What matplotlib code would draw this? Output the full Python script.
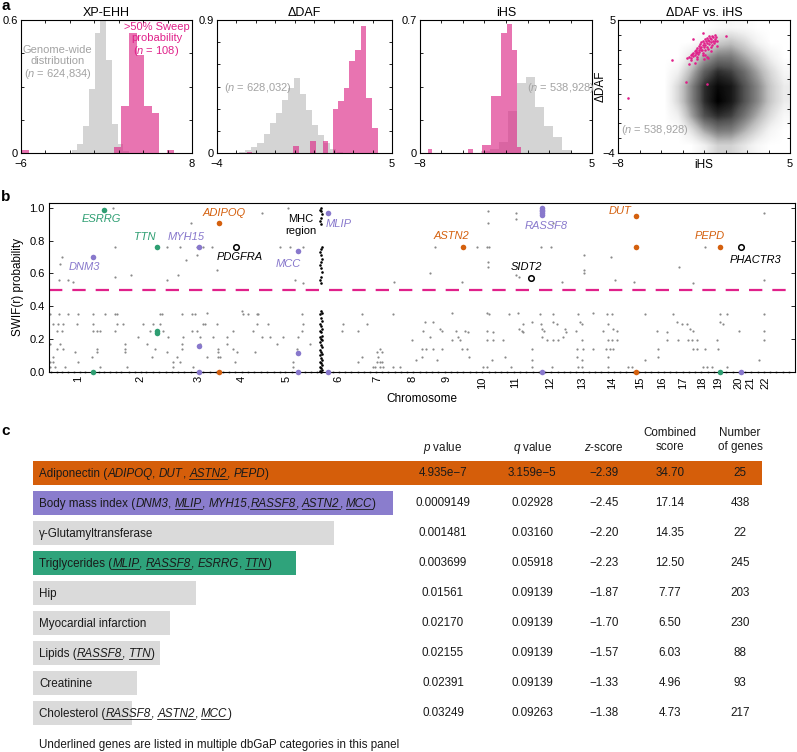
import matplotlib
matplotlib.use("Agg")
import matplotlib.pyplot as plt
from matplotlib.lines import Line2D
from matplotlib.transforms import blended_transform_factory
import numpy as np

plt.rcParams['font.family'] = ['Liberation Sans', 'DejaVu Sans']
plt.rcParams['mathtext.fontset'] = 'custom'
plt.rcParams['mathtext.rm'] = 'Liberation Sans'
plt.rcParams['mathtext.it'] = 'Liberation Sans:italic'
plt.rcParams['axes.linewidth'] = 0.8

# ======================= DATA =======================
# ---- panel a: histograms (bin left edges, widths, heights) ----
xpehh_bg_left = [-1.85, -1.38, -0.91, -0.44, 0.03, 0.50, 0.97, 1.44, 1.91, 2.38]
xpehh_bg_height = [0.012, 0.042, 0.12, 0.29, 0.54, 0.60, 0.42, 0.13, 0.04, 0.01]
xpehh_sw_left = [-6.0, 1.60, 2.22, 2.84, 3.46, 4.08, 4.70, 5.94]
xpehh_sw_height = [0.012, 0.027, 0.21, 0.54, 0.44, 0.21, 0.18, 0.012]

daf_bg_left = [-2.85, -2.54, -2.23, -1.92, -1.60, -1.29, -0.98, -0.67, -0.35,
               -0.04, 0.27, 0.58, 0.90, 1.21, 1.52, 1.83, 2.15]
daf_bg_height = [0.01, 0.02, 0.04, 0.07, 0.13, 0.20, 0.27, 0.36, 0.44,
                 0.51, 0.40, 0.29, 0.19, 0.12, 0.07, 0.03, 0.01]
daf_sw_left = [-2.47, -0.08, 0.79, 1.43, 1.94, 2.23, 2.52, 2.81, 3.10, 3.39, 3.68, 3.97]
daf_sw_height = [0.01, 0.045, 0.08, 0.08, 0.30, 0.35, 0.44, 0.62, 0.70, 0.86, 0.37, 0.17]

ihs_bg_left = [-3.40, -2.72, -2.04, -1.36, -0.68, 0.00, 0.68, 1.36, 2.04, 2.72]
ihs_bg_height = [0.01, 0.02, 0.06, 0.22, 0.37, 0.40, 0.24, 0.14, 0.085, 0.015]
ihs_sw_left = [-7.39, -4.36, -3.30, -2.60, -1.90, -1.45, -1.08, -0.70]
ihs_sw_width = [0.33, 0.33, 0.70, 0.70, 0.45, 0.37, 0.38, 0.32]
ihs_sw_height = [0.023, 0.023, 0.04, 0.30, 0.63, 0.68, 0.54, 0.03]

# ---- panel a: 2D density of dDAF vs iHS (rows: dDAF 4.5 .. -3.5, cols: iHS -4.5 .. 4.5) ----
density = [
    [0.00, 0.00, 0.00, 0.00, 0.05, 0.08, 0.05, 0.00, 0.00, 0.00],
    [0.00, 0.00, 0.00, 0.10, 0.30, 0.35, 0.25, 0.10, 0.00, 0.00],
    [0.00, 0.00, 0.20, 0.45, 0.60, 0.60, 0.45, 0.30, 0.12, 0.00],
    [0.00, 0.12, 0.40, 0.70, 0.85, 0.80, 0.65, 0.45, 0.25, 0.08],
    [0.00, 0.25, 0.55, 0.85, 0.97, 0.92, 0.75, 0.55, 0.32, 0.15],
    [0.00, 0.25, 0.55, 0.85, 1.00, 0.92, 0.75, 0.55, 0.32, 0.15],
    [0.00, 0.12, 0.45, 0.75, 0.85, 0.80, 0.62, 0.42, 0.22, 0.06],
    [0.00, 0.00, 0.20, 0.45, 0.60, 0.58, 0.42, 0.25, 0.08, 0.00],
    [0.00, 0.00, 0.00, 0.12, 0.28, 0.28, 0.18, 0.06, 0.00, 0.00],
]
sweep_ihs = [-2.75, -2.6, -2.5, -2.45, -2.4, -2.3, -2.3, -2.2, -2.2, -2.1, -2.1, -2.05, -2.0, -2.0,
             -1.95, -1.9, -1.9, -1.85, -1.8, -1.8, -1.75, -1.7, -1.7, -1.65, -1.6, -1.6, -1.55,
             -1.5, -1.5, -1.45, -1.4, -1.4, -1.35, -1.3, -1.3, -1.25, -1.2, -1.2, -1.15, -1.1,
             -1.1, -1.05, -1.0, -1.0, -0.95, -0.9, -0.9, -0.85, -0.8, -0.75, -0.7, -0.7, -0.65,
             -0.6, -0.55, -0.5, -1.6, -1.3, -2.5, -1.0, -2.0, -2.2, -1.5, -1.2, -1.4, -2.6,
             -7.25, -3.9, -2.85, -1.3, -2.3, -1.55, 0.2]
sweep_daf = [2.45, 2.5, 2.6, 2.45, 2.7, 2.55, 2.8, 2.65, 2.9, 2.75, 3.0, 2.5, 2.85, 3.1,
             2.7, 3.0, 3.25, 2.85, 3.1, 3.4, 2.95, 3.2, 3.5, 3.0, 3.3, 3.6, 2.8,
             3.15, 3.45, 3.7, 3.3, 3.0, 3.55, 3.8, 3.2, 3.45, 3.65, 3.05, 3.9, 3.35,
             3.6, 3.8, 3.15, 3.5, 3.7, 3.95, 3.3, 3.6, 3.85, 3.45, 3.7, 4.0, 3.55,
             3.85, 3.25, 3.6, 2.6, 2.5, 2.3, 2.9, 2.35, 2.1, 2.35, 2.4, 2.6, 2.0,
             -0.3, 2.3, 0.8, 0.7, 3.7, 4.15, 3.95]

# ---- panel b: genome scan ----
chrom_labels = [str(i) for i in range(1, 23)]
chrom_pos = [29, 91, 150, 193, 238, 289, 328, 363, 398, 433, 466, 501, 533, 563,
             591, 613, 634, 653, 669, 689, 701, 716]
grey_rows = [
    (1.00, [64, 239]),
    (0.97, [213, 467, 715]),
    (0.98, [439]),
    (0.91, [142, 439, 504]),
    (0.93, [467]),
    (0.76, [66, 118, 131, 148, 154, 163, 231, 241, 254, 386, 428, 438, 440, 492, 502, 656]),
    (0.71, [148, 535]),
    (0.70, [13, 562]),
    (0.68, [137]),
    (0.67, [439]),
    (0.66, [11]),
    (0.64, [439, 630]),
    (0.62, [168, 535]),
    (0.60, [381, 535]),
    (0.59, [82, 129, 467]),
    (0.58, [66, 470]),
    (0.56, [10, 19, 118, 246, 566, 715]),
    (0.55, [24, 345, 413, 513, 585]),
    (0.54, [254, 644]),
    (0.37, [193]),
    (0.36, [158, 403, 438, 469, 544]),
    (0.35, [1, 10, 19, 29, 44, 56, 66, 68, 111, 113, 133, 143, 146, 194, 199, 208, 209, 253,
            313, 344, 440, 460, 491, 504, 529, 558, 563, 596, 624, 671, 678, 715]),
    (0.30, [376, 384, 483, 504, 531, 628, 671]),
    (0.29, [4, 9, 14, 28, 44, 68, 74, 94, 104, 111, 154, 156, 168, 208, 219, 254, 294, 318,
            474, 492, 508, 533, 559, 633, 638, 674]),
    (0.26, [391, 470, 493, 516, 564, 641]),
    (0.25, [8, 13, 44, 48, 51, 66, 101, 114, 143, 148, 184, 204, 253, 293, 309, 374, 393,
            407, 416, 438, 473, 495, 527, 554, 568, 608, 644, 690, 715]),
    (0.24, [419, 444, 474, 517, 618]),
    (0.21, [89, 119, 134, 151, 164, 178, 213, 221, 234, 249, 381, 409, 493, 514]),
    (0.19, [363, 403, 411, 438, 444, 454, 498, 504, 509, 533, 559, 563, 568, 618, 629, 639,
            643, 648, 668, 715]),
    (0.17, [1, 11, 76, 98, 133, 151, 178, 228, 261]),
    (0.14, [8, 14, 48, 76, 106, 133, 169, 184, 248, 331, 373, 377, 384, 393, 413, 418, 483,
            528, 534, 544, 557, 561, 564, 609, 644, 648, 656, 669]),
    (0.12, [26, 48, 76, 118, 169, 188, 206, 328, 333]),
    (0.09, [4, 43, 103, 128, 158, 169, 171, 313, 329, 373, 420, 456, 528, 559, 609]),
    (0.07, [367, 388, 443, 483, 533, 596, 710]),
    (0.06, [1, 4, 29, 124, 131, 186, 244, 309, 328, 331, 333]),
    (0.03, [1, 6, 16, 51, 78, 124, 144, 244, 324, 326, 331, 334, 344, 351, 434, 438, 462,
            483, 503, 529, 533, 559, 579, 583, 654, 658, 663, 678]),
]
zero_row_x = [2, 8, 13, 19, 25, 31, 36, 44, 50, 55, 61, 67, 72, 80, 86, 92, 97, 104, 110, 117,
              123, 129, 135, 142, 148, 154, 161, 167, 174, 180, 186, 193, 199, 205, 212, 218,
              225, 231, 236, 243, 250, 256, 262, 268, 278, 284, 290, 296, 302, 309, 315, 321,
              327, 333, 339, 346, 352, 358, 364, 371, 377, 383, 389, 396, 402, 408, 414, 421,
              427, 433, 440, 446, 452, 458, 465, 471, 477, 484, 490, 496, 502, 509, 515, 521,
              527, 534, 540, 546, 552, 559, 565, 571, 577, 584, 590, 596, 602, 609, 615, 621,
              627, 634, 640, 646, 652, 659, 665, 671, 677, 684, 690, 696, 702, 709, 715, 721,
              727, 734, 740]
mhc_x = [272, 271, 273, 272, 271, 273, 272, 271, 273, 272, 271, 273, 272, 271, 273, 272, 271,
         273, 272, 271, 273, 272, 271, 273, 272, 271, 273, 272, 271, 273, 272, 272, 271, 272,
         273, 272, 271, 272, 273, 272, 271, 272, 273, 272, 271, 272, 273, 272, 271, 272]
mhc_y = [0.0, 0.005, 0.01, 0.02, 0.03, 0.04, 0.05, 0.06, 0.07, 0.08, 0.10, 0.11, 0.12, 0.13,
         0.15, 0.16, 0.18, 0.19, 0.20, 0.21, 0.22, 0.24, 0.25, 0.26, 0.28, 0.29, 0.31, 0.33,
         0.35, 0.36, 0.37, 0.54, 0.56, 0.58, 0.61, 0.63, 0.65, 0.67, 0.69, 0.71, 0.73, 0.75,
         0.76, 0.90, 0.92, 0.94, 0.96, 0.98, 0.99, 1.00]
tg_x = [55, 44, 108, 108, 108, 671]
tg_y = [0.99, 0.0, 0.76, 0.247, 0.235, 0.0]
bmi_x = [44, 150, 150, 150, 249, 249, 249, 279, 279, 493, 493, 493, 493, 493, 493, 692]
bmi_y = [0.70, 0.76, 0.153, 0.0, 0.735, 0.111, 0.0, 0.97, 0.0, 1.0, 0.99, 0.98, 0.97, 0.955, 0.0, 0.0]
adipo_x = [170, 170, 414, 587, 587, 587, 671]
adipo_y = [0.905, 0.0, 0.76, 0.95, 0.76, 0.0, 0.76]
other_x = [187, 482, 692]
other_y = [0.76, 0.57, 0.76]
gene_names = ["ESRRG", "TTN", "MYH15", "DNM3", "ADIPOQ", "PDGFRA", "MCC", "MLIP",
              "ASTN2", "RASSF8", "SIDT2", "DUT", "PEPD", "PHACTR3"]
gene_group = ["tg", "tg", "bmi", "bmi", "adipo", "none", "bmi", "bmi",
              "adipo", "bmi", "none", "adipo", "adipo", "none"]
gene_label_x = [52, 96, 137, 35, 175, 191, 239, 290, 402, 497, 477, 571, 661, 707]
gene_label_y = [0.93, 0.82, 0.82, 0.64, 0.97, 0.70, 0.66, 0.90, 0.83, 0.887, 0.64, 0.98, 0.83, 0.68]

# ---- panel c: enrichment table ----
trait_segments = [
    [("Adiponectin (", 0, 0), ("ADIPOQ", 1, 0), (", ", 0, 0), ("DUT", 1, 0), (", ", 0, 0),
     ("ASTN2", 1, 1), (", ", 0, 0), ("PEPD", 1, 0), (")", 0, 0)],
    [("Body mass index (", 0, 0), ("DNM3", 1, 0), (", ", 0, 0), ("MLIP", 1, 1), (", ", 0, 0),
     ("MYH15", 1, 0), (",", 0, 0), ("RASSF8", 1, 1), (", ", 0, 0), ("ASTN2", 1, 1),
     (", ", 0, 0), ("MCC", 1, 1), (")", 0, 0)],
    [("\u03b3-Glutamyltransferase", 0, 0)],
    [("Triglycerides (", 0, 0), ("MLIP", 1, 1), (", ", 0, 0), ("RASSF8", 1, 1), (", ", 0, 0),
     ("ESRRG", 1, 0), (", ", 0, 0), ("TTN", 1, 1), (")", 0, 0)],
    [("Hip", 0, 0)],
    [("Myocardial infarction", 0, 0)],
    [("Lipids (", 0, 0), ("RASSF8", 1, 1), (", ", 0, 0), ("TTN", 1, 1), (")", 0, 0)],
    [("Creatinine", 0, 0)],
    [("Cholesterol (", 0, 0), ("RASSF8", 1, 1), (", ", 0, 0), ("ASTN2", 1, 1), (", ", 0, 0),
     ("MCC", 1, 1), (")", 0, 0)],
]
p_values = ["4.935e\u22127", "0.0009149", "0.001481", "0.003699", "0.01561", "0.02170",
            "0.02155", "0.02391", "0.03249"]
q_values = ["3.159e\u22125", "0.02928", "0.03160", "0.05918", "0.09139", "0.09139",
            "0.09139", "0.09139", "0.09263"]
z_scores = [-2.39, -2.45, -2.20, -2.23, -1.87, -1.70, -1.57, -1.33, -1.38]
combined_scores = [34.70, 17.14, 14.35, 12.50, 7.77, 6.50, 6.03, 4.96, 4.73]
n_genes = [25, 438, 22, 245, 203, 230, 88, 93, 217]

# ======================= STYLE =======================
W, H = 797, 752
PINK = '#dc2a88'
PINK_T = '#e0218a'
GREY_H = '#d4d4d4'
GREY_T = '#a3a3a3'
GREEN = '#2e9e72'
PURPLE = '#8878cc'
ORANGE = '#d4600e'
BAR_COL = {'adipo': '#d55e0a', 'bmi': '#8a7dcd', 'tg': '#2fa37b', 'none': '#dadada'}
row_group = ['adipo', 'bmi', 'none', 'tg', 'none', 'none', 'none', 'none', 'none']
GCOL = {'tg': GREEN, 'bmi': PURPLE, 'adipo': ORANGE, 'none': 'black'}
TXT = '#1a1a1a'
PA = 0.65

fig = plt.figure(figsize=(W / 100, H / 100), dpi=100)


def px_axes(x0, y0, x1, y1):
    return fig.add_axes([x0 / W, 1 - y1 / H, (x1 - x0) / W, (y1 - y0) / H])


def minus(v):
    s = f"{v:g}"
    return s.replace('-', '\u2212')


def style_a(ax, xlim, ylim, xticks, yticks, xlabs, ylabs):
    ax.set_xlim(xlim)
    ax.set_ylim(ylim)
    ax.set_xticks(xticks)
    ax.set_yticks(yticks)
    ax.set_xticklabels([xlabs[0]] + [''] * (len(xticks) - 2) + [xlabs[1]])
    ax.set_yticklabels([ylabs[0]] + [''] * (len(yticks) - 2) + [ylabs[1]])
    ax.tick_params(direction='in', top=True, right=True, length=2.5, width=0.6,
                   labelsize=8, pad=2)
    ax.tick_params(axis='x', pad=4)


# ---------------- panel a ----------------
a1 = px_axes(21, 20, 192, 153)
a1.bar(xpehh_bg_left, xpehh_bg_height, width=0.47, align='edge', color=GREY_H, lw=0)
a1.bar(xpehh_sw_left, xpehh_sw_height, width=0.62, align='edge', color=PINK, alpha=PA, lw=0)
style_a(a1, (-6, 8), (0, 0.6), [-6, -4, -2, 0, 2, 4, 6, 8], [0, 0.15, 0.3, 0.45, 0.6],
        ('\u22126', '8'), ('0', '0.6'))
a1.set_title('XP-EHH', fontsize=9, pad=3)
a1.text(-3.0, 0.405, 'Genome-wide\ndistribution\n($n$ = 624,834)', color=GREY_T, fontsize=8,
        ha='center', va='center', linespacing=1.1)
a1.text(5.1, 0.51, '>50% Sweep\nprobability\n($n$ = 108)', color=PINK_T, fontsize=8,
        ha='center', va='center', linespacing=1.1)

a2 = px_axes(217, 20, 392, 153)
a2.bar(daf_bg_left, daf_bg_height, width=0.3125, align='edge', color=GREY_H, lw=0)
a2.bar(daf_sw_left, daf_sw_height, width=0.29, align='edge', color=PINK, alpha=PA, lw=0)
style_a(a2, (-4, 5), (0, 0.9), list(range(-4, 6)), [0, 0.15, 0.3, 0.45, 0.6, 0.75, 0.9],
        ('\u22124', '5'), ('0', '0.9'))
a2.set_title('\u0394DAF', fontsize=9, pad=3)
a2.text(-1.89, 0.44, '($n$ = 628,032)', color=GREY_T, fontsize=8, ha='center', va='center')

a3 = px_axes(420, 20, 592, 153)
a3.bar(ihs_bg_left, ihs_bg_height, width=0.68, align='edge', color=GREY_H, lw=0)
a3.bar(ihs_sw_left, ihs_sw_height, width=ihs_sw_width, align='edge', color=PINK, alpha=PA, lw=0)
style_a(a3, (-8, 5), (0, 0.7), [-8, -6.375, -4.75, -3.125, -1.5, 0.125, 1.75, 3.375, 5],
        [0, 0.175, 0.35, 0.525, 0.7], ('\u22128', '5'), ('0', '0.7'))
a3.set_title('iHS', fontsize=9, pad=3)
a3.text(2.66, 0.342, '($n$ = 538,928)', color=GREY_T, fontsize=8, ha='center', va='center')

a4 = px_axes(618, 20, 790, 153)
a4.imshow(np.array(density), extent=(-5, 5, -4, 5), cmap='Greys', vmin=0, vmax=1,
          interpolation='bilinear', aspect='auto', origin='upper', zorder=1)
a4.scatter(sweep_ihs, sweep_daf, s=3.5, color=PINK_T, lw=0, zorder=3)
style_a(a4, (-8, 5), (-4, 5), [-8, -6.375, -4.75, -3.125, -1.5, 0.125, 1.75, 3.375, 5],
        list(range(-4, 6)), ('\u22128', '5'), ('\u22124', '5'))
a4.set_title('\u0394DAF vs. iHS', fontsize=9, pad=3)
a4.set_xlabel('iHS', fontsize=8.5, labelpad=-7)
a4.set_ylabel('\u0394DAF', fontsize=8.5, labelpad=-3)
a4.text(-5.2, -2.44, '($n$ = 538,928)', color=GREY_T, fontsize=8, ha='center', va='center')

# ---------------- panel b ----------------
ab = px_axes(49, 203, 795, 372)
gx, gy = [], []
for yv, xs in grey_rows:
    gx += xs
    gy += [yv] * len(xs)
ab.scatter(gx, gy, s=2.5, color='#8a8a8a', lw=0, clip_on=False, zorder=2)
ab.scatter(zero_row_x, [0.0] * len(zero_row_x), s=2.5, color='#8a8a8a', lw=0, clip_on=False, zorder=2)
ab.axhline(0.5, color=PINK_T, lw=1.6, dashes=(6, 4.5), zorder=1)
ab.scatter(mhc_x, mhc_y, s=3.5, color='black', lw=0, clip_on=False, zorder=3)
ab.scatter(tg_x, tg_y, s=16, color=GREEN, lw=0, clip_on=False, zorder=4)
ab.scatter(bmi_x, bmi_y, s=16, color=PURPLE, lw=0, clip_on=False, zorder=4)
ab.scatter(adipo_x, adipo_y, s=16, color=ORANGE, lw=0, clip_on=False, zorder=4)
ab.scatter(other_x, other_y, s=16, facecolor='white', edgecolor='black', lw=1.1, zorder=4)
for name, grp, lx, ly in zip(gene_names, gene_group, gene_label_x, gene_label_y):
    ab.text(lx, ly, name, color=GCOL[grp], fontsize=8, style='italic', ha='center', va='center')
ab.text(252, 0.895, 'MHC\nregion', color='black', fontsize=8, ha='center', va='center',
        linespacing=1.3)
ab.set_xlim(0, 746)
ab.set_ylim(-0.003, 1.03)
ab.set_yticks([0, 0.2, 0.4, 0.6, 0.8, 1.0])
ab.set_yticklabels(['0.0', '0.2', '0.4', '0.6', '0.8', '1.0'])
ab.set_xticks(chrom_pos)
ab.set_xticklabels(chrom_labels, rotation=90)
ab.tick_params(axis='y', direction='in', right=True, length=3, width=0.6, labelsize=8, pad=3)
ab.tick_params(axis='x', length=0, labelsize=8, pad=3)
ab.set_ylabel('SWIF(r) probability', fontsize=8.5, labelpad=4)
ab.set_xlabel('Chromosome', fontsize=8.5, labelpad=3)

# ---------------- panel c ----------------
FS = 8.4
k = 21.0  # pixels per unit of combined score
ac = px_axes(33, 458, 797, 728)
ac.set_xlim(0, 764 / k)
ac.set_ylim(8.5, -0.5)
ac.axis('off')
rows = list(range(len(combined_scores)))
ac.barh(rows, combined_scores, height=0.78, left=0,
        color=[BAR_COL[g] for g in row_group], lw=0)

col_px = {'p': 443, 'q': 532, 'z': 604, 'c': 670, 'n': 740}
cx = {key: (v - 33) / 764 for key, v in col_px.items()}
bt = blended_transform_factory(ac.transAxes, ac.transData)
ac.text(cx['p'], -0.83, '$p$ value', transform=bt, ha='center', va='center', fontsize=FS, color=TXT, clip_on=False)
ac.text(cx['q'], -0.83, '$q$ value', transform=bt, ha='center', va='center', fontsize=FS, color=TXT, clip_on=False)
ac.text(cx['z'], -0.83, '$z$-score', transform=bt, ha='center', va='center', fontsize=FS, color=TXT, clip_on=False)
ac.text(cx['c'], -1.1, 'Combined\nscore', transform=bt, ha='center', va='center', fontsize=FS, color=TXT, clip_on=False)
ac.text(cx['n'], -1.1, 'Number\nof genes', transform=bt, ha='center', va='center', fontsize=FS, color=TXT, clip_on=False)
for i in rows:
    vals = [p_values[i], q_values[i], f"\u2212{abs(z_scores[i]):.2f}", f"{combined_scores[i]:.2f}", str(n_genes[i])]
    for key, v in zip(['p', 'q', 'z', 'c', 'n'], vals):
        ac.text(cx[key], i, v, transform=bt, ha='center', va='center', fontsize=FS, color=TXT)
ac.text((39 - 33) / 764, 9.07, 'Underlined genes are listed in multiple dbGaP categories in this panel',
        transform=bt, ha='left', va='center', fontsize=FS, color=TXT, clip_on=False)

renderer = fig.canvas.get_renderer()


def advance(s, italic):
    st = 'italic' if italic else 'normal'
    t1 = fig.text(0, 0, 'I' + s + 'I', fontsize=FS, style=st)
    t2 = fig.text(0, 0, 'II', fontsize=FS, style=st)
    w = t1.get_window_extent(renderer).width - t2.get_window_extent(renderer).width
    t1.remove()
    t2.remove()
    return w


x_start = ac.transAxes.transform(((39 - 33) / 764, 0))[0]
for i, segs in enumerate(trait_segments):
    yc = ac.transData.transform((0, i))[1]
    yb = yc - 4.2
    x = x_start
    for s, it, ul in segs:
        fig.text(x / W, yb / H, s, fontsize=FS, style='italic' if it else 'normal',
                 va='baseline', ha='left', color=TXT)
        w = advance(s, it)
        if ul:
            fig.add_artist(Line2D([x / W, (x + w) / W], [(yb - 1.8) / H] * 2,
                                  transform=fig.transFigure, color=TXT, lw=0.6))
        x += w

# panel letters
fig.text(1 / W, 1 - 6 / H, 'a', fontsize=11, fontweight='bold', va='center', ha='left')
fig.text(1 / W, 1 - 197 / H, 'b', fontsize=11, fontweight='bold', va='center', ha='left')
fig.text(1 / W, 1 - 431 / H, 'c', fontsize=11, fontweight='bold', va='center', ha='left')

fig.savefig('out.png', dpi=100)
